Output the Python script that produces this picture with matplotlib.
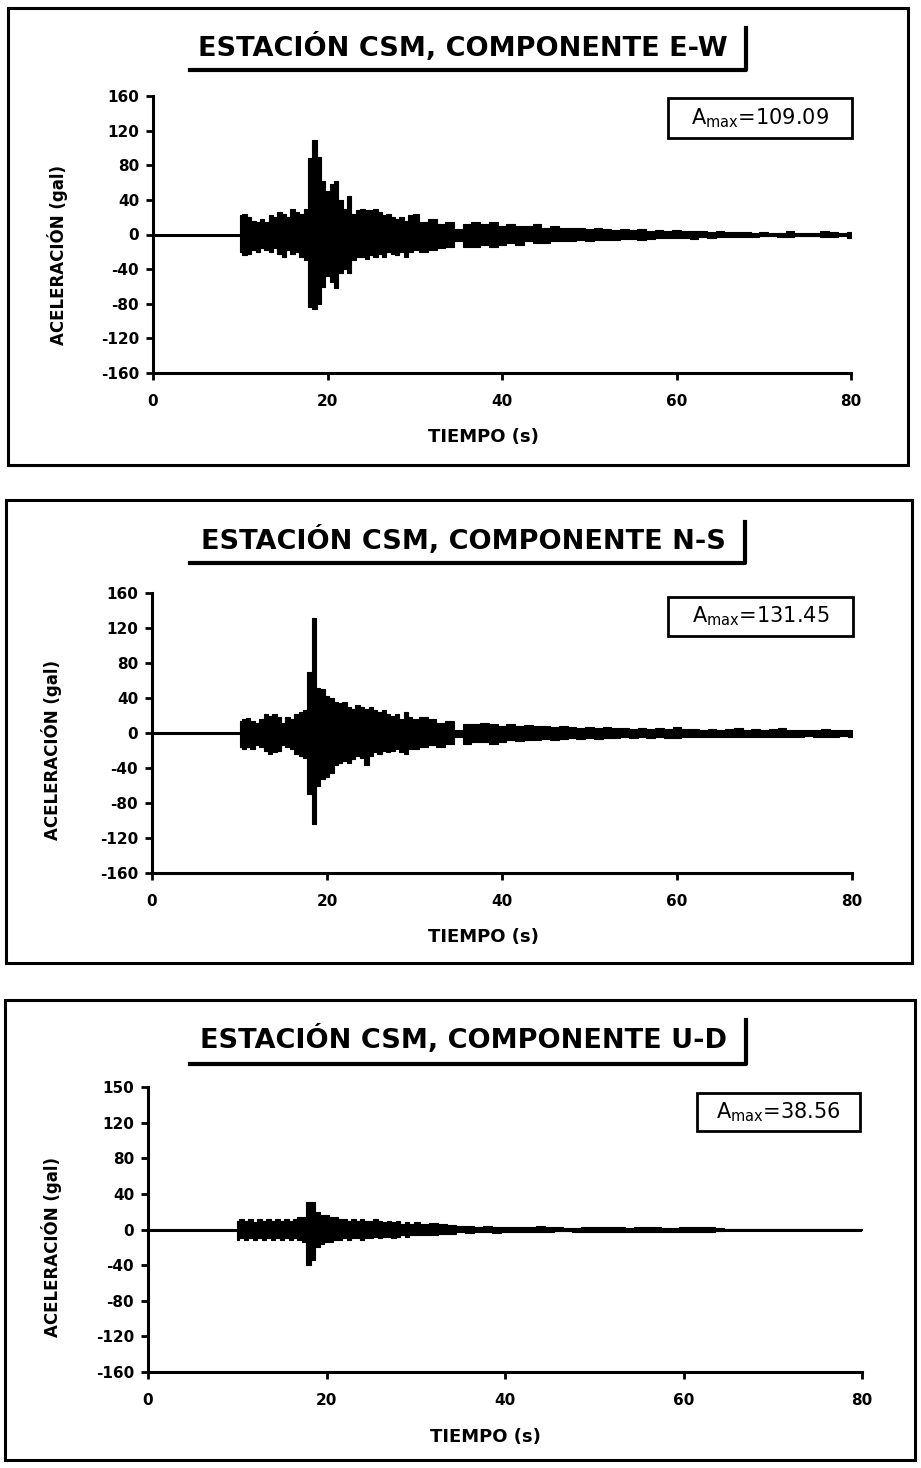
import numpy as np
import matplotlib.pyplot as plt
from matplotlib.patches import Rectangle
from matplotlib.lines import Line2D

W, H = 921, 1468

tiempo_s = [10.0, 10.5, 11.0, 11.5, 12.0, 12.5, 13.0, 13.5, 14.0, 14.5,
            15.0, 15.5, 16.0, 16.5, 17.0, 17.5, 18.0, 18.5, 19.0, 19.5,
            20.0, 20.5, 21.0, 21.5, 22.0, 22.5, 23.0, 23.5, 24.0, 24.5,
            25.0, 25.5, 26.0, 26.5, 27.0, 27.5, 28.0, 28.5, 29.0, 29.5,
            30.0, 31, 32, 33, 34, 35, 36, 37, 38, 39,
            40, 41, 42, 43, 44, 45, 46, 47, 48, 49,
            50, 51, 52, 53, 54, 55, 56, 57, 58, 59,
            60, 61, 62, 63, 64, 65, 66, 67, 68, 69,
            70, 71, 72, 73, 74, 75, 76, 77, 78, 79, 80]
registro_s = [0, 80]

# E-W component: upper / lower envelope (gal)
ew_sup = [22, 24, 20, 16, 14, 18, 14, 22, 20, 26,
          24, 20, 30, 26, 24, 30, 88, 109, 90, 62,
          50, 58, 62, 40, 30, 44, 24, 28, 30, 28,
          28, 30, 26, 22, 24, 20, 18, 20, 16, 22,
          24, 14, 18, 12, 14, 6, 12, 14, 12, 14,
          10, 12, 10, 10, 12, 8, 10, 8, 8, 7,
          6, 7, 6, 5, 6, 5, 6, 4, 5, 4,
          5, 4, 4, 4, 3, 4, 3, 3, 3, 2,
          3, 2, 2, 4, 2, 2, 2, 4, 3, 2, 3]
ew_inf = [-20, -24, -22, -18, -20, -16, -18, -20, -16, -22,
          -26, -18, -22, -20, -26, -30, -84, -86, -80, -61,
          -48, -55, -62, -45, -40, -45, -30, -26, -26, -28,
          -24, -26, -22, -26, -20, -22, -24, -20, -26, -20,
          -18, -20, -18, -16, -14, -8, -14, -14, -12, -14,
          -12, -10, -12, -8, -10, -10, -8, -8, -8, -6,
          -8, -6, -6, -6, -5, -5, -6, -5, -4, -4,
          -4, -4, -5, -3, -4, -3, -3, -3, -3, -3,
          -2, -2, -3, -3, -2, -2, -2, -3, -3, -2, -4]

# N-S component
ns_sup = [14, 16, 17, 14, 12, 16, 22, 20, 22, 18,
          12, 18, 16, 22, 24, 26, 70, 131, 52, 50,
          42, 40, 36, 34, 36, 30, 28, 32, 30, 28,
          30, 26, 24, 26, 22, 20, 22, 16, 24, 18,
          16, 18, 16, 12, 14, 4, 10, 10, 12, 10,
          8, 10, 8, 9, 8, 8, 7, 8, 7, 6,
          7, 6, 7, 6, 6, 5, 6, 5, 6, 5,
          7, 5, 5, 4, 5, 4, 5, 6, 4, 5,
          4, 5, 6, 4, 4, 4, 4, 5, 4, 4, 4]
ns_inf = [-16, -18, -16, -18, -14, -16, -20, -24, -22, -20,
          -14, -16, -18, -24, -26, -28, -70, -104, -60, -52,
          -50, -46, -36, -34, -32, -34, -30, -26, -28, -36,
          -26, -22, -24, -20, -22, -20, -18, -22, -24, -18,
          -18, -16, -14, -16, -12, -4, -12, -10, -10, -12,
          -10, -8, -9, -8, -8, -7, -8, -7, -6, -7,
          -6, -7, -6, -6, -5, -6, -5, -6, -5, -6,
          -6, -5, -4, -5, -4, -5, -4, -5, -4, -4,
          -5, -4, -5, -4, -4, -3, -4, -5, -4, -3, -4]

# U-D component
ud_sup = [10, 12, 10, 12, 8, 12, 10, 12, 10, 12,
          10, 12, 10, 12, 14, 14, 31, 31, 20, 16,
          16, 14, 14, 12, 12, 10, 12, 10, 12, 10,
          10, 12, 10, 8, 10, 8, 10, 6, 8, 6,
          8, 6, 7, 6, 5, 4, 4, 3, 4, 3,
          3, 3, 3, 3, 4, 3, 3, 2, 2, 3,
          3, 3, 3, 3, 2, 3, 3, 3, 2, 2,
          3, 3, 3, 3, 2, 1, 1, 1, 1, 1,
          1, 1, 1, 1, 1, 1, 1, 1, 1, 1, 1]
ud_inf = [-12, -10, -12, -10, -12, -10, -12, -10, -12, -10,
          -12, -10, -12, -10, -12, -14, -40, -34, -20, -16,
          -14, -14, -12, -12, -10, -12, -10, -10, -12, -10,
          -10, -8, -10, -8, -8, -10, -8, -6, -8, -6,
          -6, -6, -6, -5, -5, -3, -4, -3, -3, -4,
          -3, -3, -3, -3, -3, -3, -2, -2, -3, -3,
          -3, -3, -3, -3, -3, -3, -3, -3, -3, -3,
          -3, -3, -3, -3, -2, -1, -1, -1, -1, -1,
          -1, -1, -1, -1, -1, -1, -1, -1, -1, -1, -1]

titulos = ["ESTACIÓN CSM, COMPONENTE E-W",
           "ESTACIÓN CSM, COMPONENTE N-S",
           "ESTACIÓN CSM, COMPONENTE U-D"]
amax = ["109.09", "131.45", "38.56"]
y_ticks = [160, 120, 80, 40, 0, -40, -80, -120, -160]
y_labels = [["160", "120", "80", "40", "0", "-40", "-80", "-120", "-160"],
            ["160", "120", "80", "40", "0", "-40", "-80", "-120", "-160"],
            ["150", "120", "80", "40", "0", "-40", "-80", "-120", "-160"]]
x_ticks = [0, 20, 40, 60, 80]
x_labels = ["0", "20", "40", "60", "80"]

series = [(ew_sup, ew_inf), (ns_sup, ns_inf), (ud_sup, ud_inf)]

# layout in pixels (x0, y0, x1, y1 from top-left)
paneles = [
    dict(marco=(8, 8, 908, 465), ejes=(153, 96, 851, 373), tit_y=48,
         subr=(190, 746, 70, 28), caja=(668, 98, 852, 138), ylab=(58, 255), xlab=(483, 437)),
    dict(marco=(6, 500, 912, 963), ejes=(152, 593, 852, 873), tit_y=541,
         subr=(190, 745, 563, 522), caja=(668, 597, 853, 636), ylab=(52, 750), xlab=(483, 937)),
    dict(marco=(5, 1000, 915, 1460), ejes=(148, 1087, 862, 1372), tit_y=1040,
         subr=(190, 746, 1064, 1020), caja=(697, 1093, 860, 1131), ylab=(52, 1247), xlab=(485, 1437)),
]


def fx(px):
    return px / W


def fy(py):
    return 1 - py / H


fig = plt.figure(figsize=(W / 100, H / 100), dpi=100)

for i, p in enumerate(paneles):
    # outer frame
    x0, y0, x1, y1 = p["marco"]
    fig.add_artist(Rectangle((fx(x0), fy(y1)), fx(x1) - fx(x0), fy(y0) - fy(y1),
                             transform=fig.transFigure, fill=False, lw=2.2, ec="black"))

    # title with shadow-style underline
    fig.text(fx(463), fy(p["tit_y"]), titulos[i], ha="center", va="center",
             fontsize=19.5, fontweight="bold")
    sx0, sx1, sy, sytop = p["subr"]
    fig.add_artist(Line2D([fx(sx0), fx(sx1), fx(sx1)], [fy(sy), fy(sy), fy(sytop)],
                          transform=fig.transFigure, color="black", lw=3))

    # axes
    ax0, ay0, ax1, ay1 = p["ejes"]
    ax = fig.add_axes([fx(ax0), fy(ay1), fx(ax1) - fx(ax0), fy(ay0) - fy(ay1)])
    sup, inf = series[i]
    ax.fill_between(tiempo_s, inf, sup, step="mid", color="black", lw=0.8, ec="black")
    ax.plot(registro_s, [0, 0], color="black", lw=2.2)
    ax.set_xlim(0, 80)
    ax.set_ylim(-160, 160)
    ax.set_xticks(x_ticks)
    ax.set_xticklabels(x_labels)
    ax.set_yticks(y_ticks)
    ax.set_yticklabels(y_labels[i])
    for s in ["top", "right"]:
        ax.spines[s].set_visible(False)
    for s in ["left", "bottom"]:
        ax.spines[s].set_linewidth(2.2)
    ax.tick_params(length=5, width=2, labelsize=11)
    ax.tick_params(axis="x", pad=10)
    ax.tick_params(axis="y", pad=5)
    for lab in ax.get_xticklabels() + ax.get_yticklabels():
        lab.set_fontweight("bold")
    ax.set_facecolor("none")

    # axis labels
    fig.text(fx(p["ylab"][0]), fy(p["ylab"][1]), "ACELERACIÓN (gal)", rotation=90,
             ha="center", va="center", fontsize=12, fontweight="bold")
    fig.text(fx(p["xlab"][0]), fy(p["xlab"][1]), "TIEMPO (s)", ha="center",
             va="center", fontsize=13, fontweight="bold")

    # A_max box
    bx0, by0, bx1, by1 = p["caja"]
    fig.add_artist(Rectangle((fx(bx0), fy(by1)), fx(bx1) - fx(bx0), fy(by0) - fy(by1),
                             transform=fig.transFigure, fill=False, lw=2, ec="black"))
    fig.text(fx((bx0 + bx1) / 2), fy((by0 + by1) / 2),
             r"A$_{\mathregular{max}}$=" + amax[i], ha="center", va="center",
             fontsize=15)

fig.savefig("out.png", dpi=100, facecolor="white")
